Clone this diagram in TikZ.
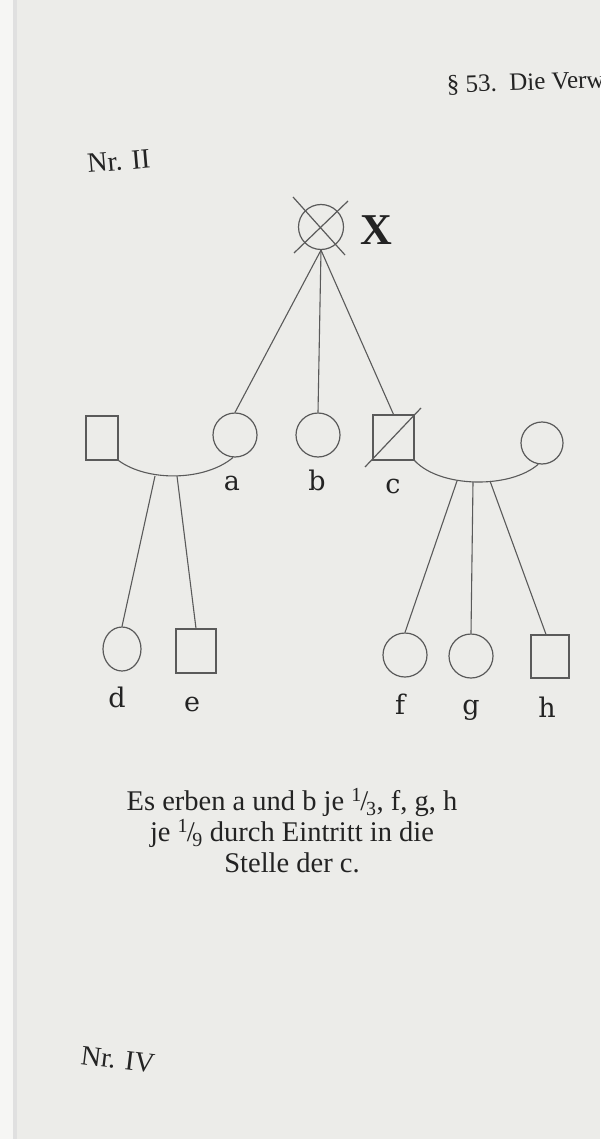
\documentclass[tikz,border=0pt]{standalone}
\usepackage{fontspec}
\usetikzlibrary{shapes.geometric}
\setmainfont{Liberation Serif}
\newfontfamily\labfont{DejaVu Serif}
\definecolor{page}{RGB}{236,236,233}
\definecolor{edge}{RGB}{246,246,244}
\definecolor{ink}{RGB}{90,90,90}
\definecolor{txt}{RGB}{35,35,35}
\tikzset{
  kin/.style={draw=ink, line width=1.2pt},
  fem/.style={kin, circle, inner sep=0pt, minimum size=#1},
  fem/.default=44pt,
  mal/.style={kin, rectangle, inner sep=0pt},
  lab/.style={text=txt, font=\labfont\fontsize{27}{30}\selectfont, inner sep=0pt, anchor=base},
  conn/.style={draw=ink, line width=1.1pt},
}
\newcommand{\myfrac}[2]{\textsuperscript{#1}\kern-.05em/\kern-.08em\textsubscript{#2}}
\begin{document}
\begin{tikzpicture}[x=1pt,y=-1pt]
\useasboundingbox (0,0) rectangle (600,1139);
\fill[page] (0,0) rectangle (600,1139);
\fill[edge] (0,0) rectangle (13,1139);
\fill[black!12] (13,0) rectangle (17,1139);
\begin{scope}
\clip (0,0) rectangle (600,1139);
\node[text=txt, font=\fontsize{25}{28}\selectfont, anchor=base west, inner sep=0pt, rotate=2] (hdr) at (447,93) {§ 53.\ \ Die Verw};
\end{scope}
\node[text=txt, font=\fontsize{28}{30}\selectfont, anchor=base west, inner sep=0pt, rotate=5] (nr2) at (88,173) {Nr. II};
\node[text=txt, font=\fontsize{28}{30}\selectfont, anchor=base west, inner sep=0pt, rotate=-7] (nr4) at (80,1064) {Nr. IV};

% deceased
\node[fem=45pt] (X) at (321,227) {};
\draw[kin] (293,197) -- (345,255);
\draw[kin] (348,201) -- (294,253);
\node[text=txt, font=\bfseries\fontsize{44}{46}\selectfont, anchor=base, inner sep=0pt] (Xl) at (376,245) {X};

% generation 1
\node[mal, minimum width=32pt, minimum height=44pt] (sl) at (102,438) {};
\node[fem=44pt] (a) at (235,435) {};
\node[fem=44pt] (b) at (318,435) {};
\node[mal, minimum width=41pt, minimum height=45pt] (c) at (393.5,437.5) {};
\draw[kin] (365,467) -- (421,408);
\node[fem=42pt] (sr) at (542,443) {};

\draw[conn] (X.south) -- (a.north);
\draw[conn] (X.south) -- (b.north);
\draw[conn] (X.south) -- (c.north);

% marriages
\draw[conn] (sl.south east) .. controls (148,482) and (205,481) .. (a.-95);
\draw[conn] (c.south east) .. controls (440,488) and (510,489) .. (sr.-100);
\coordinate (m1) at (155,476);
\coordinate (m2) at (177,476);
\coordinate (m3) at (457,481);
\coordinate (m4) at (473,482);
\coordinate (m5) at (490,481);

% generation 2
\node[kin, ellipse, inner sep=0pt, minimum width=38pt, minimum height=44pt] (d) at (122,649) {};
\node[mal, minimum width=40pt, minimum height=44pt] (e) at (196,651) {};
\node[fem=44pt] (f) at (405,655) {};
\node[fem=44pt] (g) at (471,656) {};
\node[mal, minimum width=38pt, minimum height=43pt] (h) at (550,656.5) {};

\draw[conn] (m1) -- (d.north);
\draw[conn] (m2) -- (e.north);
\draw[conn] (m3) -- (f.north);
\draw[conn] (m4) -- (g.north);
\draw[conn] (m5) -- ([xshift=-4pt]h.north);

% labels
\node[lab] (la) at (232,490) {a};
\node[lab] (lb) at (317,490) {b};
\node[lab] (lc) at (393,493) {c};
\node[lab] (ld) at (117,707) {d};
\node[lab] (le) at (192,711) {e};
\node[lab] (lf) at (400,714) {f};
\node[lab] (lg) at (471,714) {g};
\node[lab] (lh) at (547,717) {h};

\node[text=txt, font=\fontsize{28.5}{31}\selectfont, align=center, inner sep=0pt] (txt) at (292,831)
  {Es erben a und b je \myfrac{1}{3}, f, g, h\\ je \myfrac{1}{9} durch Eintritt in die\\ Stelle der c.};
\end{tikzpicture}
\end{document}
